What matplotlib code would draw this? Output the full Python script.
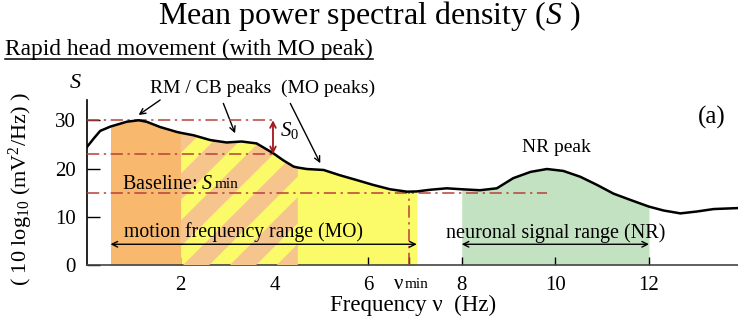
import matplotlib
matplotlib.use("Agg")
import matplotlib.pyplot as plt
from matplotlib.patches import Polygon
import numpy as np

plt.rcParams["font.family"] = ["Liberation Serif", "DejaVu Serif"]
plt.rcParams["mathtext.fontset"] = "custom"
plt.rcParams["mathtext.rm"] = "Liberation Serif"
plt.rcParams["mathtext.it"] = "Liberation Serif:italic"

# mean power spectral density, rapid head movement
freq = [0.0, 0.14, 0.28, 0.5, 0.85, 1.1, 1.27, 1.56, 1.91, 2.0, 2.27, 2.63, 2.98,
        3.3, 3.62, 3.97, 4.19, 4.41, 4.5, 4.69, 5.05, 5.4, 5.76, 6.11, 6.47, 6.83,
        7.04, 7.33, 7.68, 8.0, 8.39, 8.75, 9.1, 9.47, 9.82, 10.17, 10.53, 10.89,
        11.24, 11.6, 12.0, 12.31, 12.67, 13.03, 13.38, 13.9]
psd = [24.5, 26.2, 27.8, 28.7, 29.7, 30.0, 29.7, 28.6, 27.6, 27.4, 26.9, 25.9, 25.4,
       25.6, 25.2, 23.2, 21.7, 20.4, 20.2, 19.9, 19.7, 18.6, 17.6, 16.6, 15.7, 15.2,
       15.25, 15.6, 15.9, 15.7, 15.5, 15.9, 18.0, 19.3, 19.9, 19.5, 18.3, 16.6,
       14.8, 13.5, 12.1, 11.3, 10.7, 11.1, 11.6, 11.8]

s_max = 30.0
s_low = 23.0
s_min = 15.0
nu_min = 6.88

mo_range = (0.5, 7.04)
rm_range = (0.5, 2.0)
cb_range = (2.0, 4.5)
nr_range = (8.0, 12.0)
baseline_end = 9.82

xticks = [2, 4, 6, 8, 10, 12]
yticks = [0, 10, 20, 30]

ORANGE = "#f8b96f"
ORANGE_LT = "#f6c48d"
YELLOW = "#fbfb6a"
GREEN = "#c3e2c1"
DASH_RED = "#b9403a"
ARROW_RED = "#a3161b"

f = np.array(freq)
s = np.array(psd)

fig = plt.figure(figsize=(7.38, 3.29), dpi=100)
ax = fig.add_axes([0.118, 0.1945, 0.882, 0.5015])
ax.set_xlim(0, 13.9)
ax.set_ylim(0, 34.2)


def band(lo, hi, color, z):
    m = (f >= lo - 1e-9) & (f <= hi + 1e-9)
    return ax.fill_between(f[m], 0, s[m], color=color, lw=0, zorder=z)


band(*mo_range, YELLOW, 1)
band(*rm_range, ORANGE, 2)
cb = band(*cb_range, YELLOW, 2)
band(*nr_range, GREEN, 1)

# diagonal stripes over the CB part
clip = cb.get_paths()[0]
period, width, slope = 1.0, 0.56, 9.7
for x0 in np.arange(-1.95, 5.0, period):
    top = 36
    p = Polygon([(x0, 0), (x0 + width, 0), (x0 + width + top / slope, top),
                 (x0 + top / slope, top)], closed=True, color=ORANGE_LT, lw=0, zorder=3)
    ax.add_patch(p)
    p.set_clip_path(clip, ax.transData)

ax.plot(f, s, color="black", lw=1.8, zorder=6)

# reference levels
dd = dict(color=DASH_RED, lw=1.1, dashes=(8, 3, 1.5, 3), zorder=5)
ax.plot([0, 3.97], [s_max, s_max], **dd)
ax.plot([0, 3.95], [s_low, s_low], **dd)
ax.plot([0, baseline_end], [s_min, s_min], **dd)
ax.plot([nu_min, nu_min], [0, s_min], **dd)

ax.annotate("", xy=(3.97, s_low), xytext=(3.97, s_max),
            arrowprops=dict(arrowstyle="<->", color=ARROW_RED, lw=1.3,
                            shrinkA=0, shrinkB=0), zorder=7)
ax.text(4.12, 27.8, r"$S_0$", fontsize=15, va="center", ha="left", zorder=7)

# range arrows
for lo, hi in (mo_range, nr_range):
    ax.annotate("", xy=(lo, 4.3), xytext=(hi, 4.3),
                arrowprops=dict(arrowstyle="<->", color="black", lw=1.0,
                                shrinkA=0, shrinkB=0), zorder=7)
ax.text(3.33, 6.9, "motion frequency range (MO)", fontsize=14.2, ha="center",
        va="center", zorder=7)
ax.text(10.0, 6.7, "neuronal signal range (NR)", fontsize=14.5, ha="center",
        va="center", zorder=7)

t = ax.text(0.75, 16.6, r"Baseline: $S$", fontsize=14.5, ha="left", va="center", zorder=7)
ax.annotate("min", xy=(1, 0), xycoords=t, xytext=(0.5, 2.2), textcoords="offset points",
            fontsize=11, ha="left", va="bottom", zorder=7)

# peak labels
ax.text(1.35, 36.6, "RM / CB peaks  (MO peaks)", fontsize=14, ha="left", va="center",
        clip_on=False)
arr = dict(arrowstyle="->", color="black", lw=1.0, shrinkA=0, shrinkB=0)
ax.annotate("", xy=(1.1, 31.1), xytext=(1.56, 34.2), arrowprops=arr, annotation_clip=False)
ax.annotate("", xy=(3.16, 27.3), xytext=(2.91, 33.5), arrowprops=arr, annotation_clip=False)
ax.annotate("", xy=(4.98, 21.1), xytext=(4.34, 33.5), arrowprops=arr, annotation_clip=False)
ax.text(10.02, 24.4, "NR peak", fontsize=14, ha="center", va="center")
ax.text(13.35, 30.6, "(a)", fontsize=18, ha="center", va="center")
ax.text(-0.26, 37.6, r"$S$", fontsize=16, ha="center", va="center", clip_on=False)

# axes styling
for side in ("top", "right"):
    ax.spines[side].set_visible(False)
ax.spines["left"].set_linewidth(1.2)
ax.spines["bottom"].set_linewidth(1.2)
ax.spines["bottom"].set_color("#444444")
ax.set_yticks(yticks)
ax.tick_params(axis="y", direction="in", length=9, width=1.0, labelsize=15, pad=8)
ax.set_xticks(xticks + [nu_min])
ax.set_xticklabels([str(v) for v in xticks] + [""])
ax.tick_params(axis="x", direction="in", length=6, width=1.0, labelsize=15, pad=8)

nu = ax.text(6.66, -0.06, "ν", transform=ax.get_xaxis_transform(), fontsize=15,
             ha="center", va="top")
ax.annotate("min", xy=(1, 0), xycoords=nu, xytext=(1, 2.2), textcoords="offset points",
            fontsize=11, ha="left", va="bottom")

ax.set_ylabel(r"( 10 log$_{10}$ (mV$^2$/Hz) )", fontsize=16)
ax.yaxis.set_label_coords(-0.08, 0.46)
fig.text(0.5596, 0.073, "Frequency ν  (Hz)", fontsize=16.5, ha="center", va="center")

fig.text(0.5, 0.952, r"Mean power spectral density ($S$ )", fontsize=23,
         ha="center", va="center")
sub = fig.text(0.007, 0.85, "Rapid head movement (with MO peak)", fontsize=16.8,
               ha="left", va="center")
fig.canvas.draw()
bb = sub.get_window_extent().transformed(fig.transFigure.inverted())
fig.add_artist(plt.Line2D([bb.x0, bb.x1], [bb.y0 + 0.004, bb.y0 + 0.004],
                          color="black", lw=1.1, transform=fig.transFigure))

fig.savefig("out.png", dpi=100)
